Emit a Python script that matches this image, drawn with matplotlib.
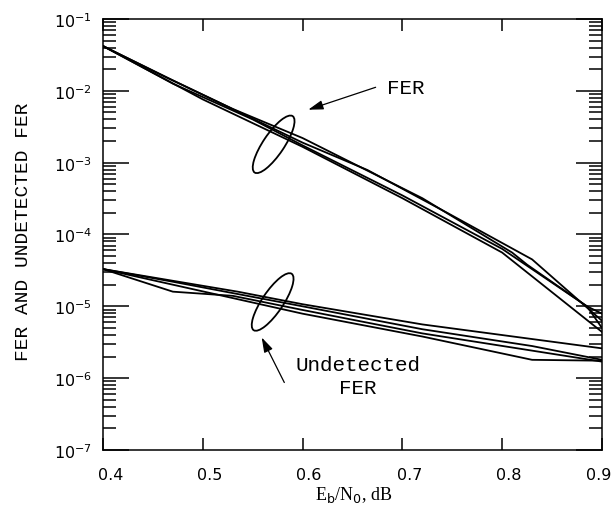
import numpy as np
import matplotlib
matplotlib.use('Agg')
import matplotlib.pyplot as plt
import matplotlib.transforms as transforms
from matplotlib.patches import Ellipse
from matplotlib.ticker import LogLocator, NullFormatter, FixedLocator, FixedFormatter

# FER curves
fer_x_1 = [0.4, 0.465, 0.53, 0.6, 0.72, 0.81, 0.825, 0.885, 0.9]
fer_y_1 = [4.2e-2, 1.5e-2, 5.6e-3, 2.2e-3, 3.2e-4, 5.6e-5, 3.8e-5, 1.0e-5, 7.9e-6]
fer_x_2 = [0.4, 0.47, 0.6, 0.665, 0.745, 0.83, 0.9]
fer_y_2 = [4.2e-2, 1.4e-2, 1.9e-3, 7.9e-4, 2.0e-4, 4.5e-5, 6.3e-6]
fer_x_3 = [0.4, 0.5, 0.6, 0.7, 0.8, 0.9]
fer_y_3 = [4.2e-2, 7.6e-3, 1.66e-3, 3.2e-4, 5.6e-5, 4.4e-6]
fer_x_4 = [0.4, 0.47, 0.55, 0.6, 0.7, 0.8, 0.885, 0.9]
fer_y_4 = [4.2e-2, 1.26e-2, 4.0e-3, 1.74e-3, 3.5e-4, 6.3e-5, 1.0e-5, 5.0e-6]

# Undetected FER curves
und_x_1 = [0.4, 0.535, 0.6, 0.72, 0.9]
und_y_1 = [3.3e-5, 1.6e-5, 1.07e-5, 5.6e-6, 2.6e-6]
und_x_2 = [0.4, 0.47, 0.6, 0.72, 0.83, 0.9]
und_y_2 = [3.3e-5, 2.2e-5, 1.0e-5, 4.8e-6, 2.8e-6, 1.8e-6]
und_x_3 = [0.4, 0.47, 0.53, 0.6, 0.72, 0.9]
und_y_3 = [3.3e-5, 1.6e-5, 1.4e-5, 8.9e-6, 4.2e-6, 1.7e-6]
und_x_4 = [0.4, 0.6, 0.72, 0.83, 0.9]
und_y_4 = [3.3e-5, 7.9e-6, 3.8e-6, 1.8e-6, 1.75e-6]

x_ticks = [0.4, 0.5, 0.6, 0.7, 0.8, 0.9]
x_tick_labels = ['0.4', '0.5', '0.6', '0.7', '0.8', '0.9']
y_ticks = [1e-7, 1e-6, 1e-5, 1e-4, 1e-3, 1e-2, 1e-1]

fig = plt.figure(figsize=(6.13, 5.06), dpi=100)
ax = fig.add_axes([0.168, 0.1087, 0.814, 0.8518])

for xs, ys in [(fer_x_1, fer_y_1), (fer_x_2, fer_y_2), (fer_x_3, fer_y_3), (fer_x_4, fer_y_4),
               (und_x_1, und_y_1), (und_x_2, und_y_2), (und_x_3, und_y_3), (und_x_4, und_y_4)]:
    ax.plot(xs, ys, color='black', linewidth=1.3)

ax.set_yscale('log')
ax.set_xlim(0.4, 0.9)
ax.set_ylim(1e-7, 1e-1)

# Ticks
ax.xaxis.set_major_locator(FixedLocator(x_ticks))
ax.xaxis.set_major_formatter(FixedFormatter(x_tick_labels))
ax.yaxis.set_major_locator(FixedLocator(y_ticks))
ax.yaxis.set_minor_locator(LogLocator(base=10, subs=np.arange(2, 10), numticks=100))
ax.yaxis.set_minor_formatter(NullFormatter())
ax.tick_params(axis='x', which='major', direction='in', top=True, length=8.6, width=1.1,
               labelsize=11.5, pad=12)
ax.tick_params(axis='y', which='major', direction='in', right=True, length=18.7, width=1.1,
               labelsize=11.5, pad=8)
ax.tick_params(axis='y', which='minor', direction='in', right=True, length=9.4, width=1.1)
for sp in ax.spines.values():
    sp.set_linewidth(1.1)

# shift x tick labels a little to the right like the original
offsets = [8, 7, 6, 7, 7, -3]
for lab, dx in zip(ax.get_xticklabels(), offsets):
    lab.set_transform(lab.get_transform() + transforms.ScaledTranslation(dx / 100, 0, fig.dpi_scale_trans))

# Labels
ax.set_xlabel(r'E$_{\rm b}$/N$_{0}$, dB', fontsize=13, family='Liberation Serif')
ax.xaxis.set_label_coords(0.503, -0.08)
ax.set_ylabel('FER AND UNDETECTED FER', fontsize=14, family='Liberation Mono')
ax.yaxis.set_label_coords(-0.142, 0.508)

# Ellipses around the curve groups
for cx, cy in [(0.571, 1.8e-3), (0.570, 1.15e-5)]:
    trans = fig.dpi_scale_trans + transforms.ScaledTranslation(cx, cy, ax.transData)
    ax.add_patch(Ellipse((0, 0), width=0.68, height=0.21, angle=56, fill=False,
                         edgecolor='black', linewidth=1.3, transform=trans, clip_on=False))

# Annotations
arrow = dict(arrowstyle='-|>,head_length=0.9,head_width=0.28', color='black', lw=0.9,
             shrinkA=0, shrinkB=0)
ax.annotate('', xy=(0.6057, 5.46e-3), xytext=(0.6732, 1.12e-2), arrowprops=arrow)
ax.text(0.6846, 1.13e-2, 'FER', fontsize=15, family='Liberation Mono', ha='left', va='center')
ax.annotate('', xy=(0.559, 3.69e-6), xytext=(0.5817, 8.7e-7), arrowprops=arrow)
ax.text(0.6555, 1.07e-6, 'Undetected\nFER', fontsize=15, family='Liberation Mono',
        ha='center', va='center', linespacing=1.3)

plt.savefig('out.png', dpi=100)
